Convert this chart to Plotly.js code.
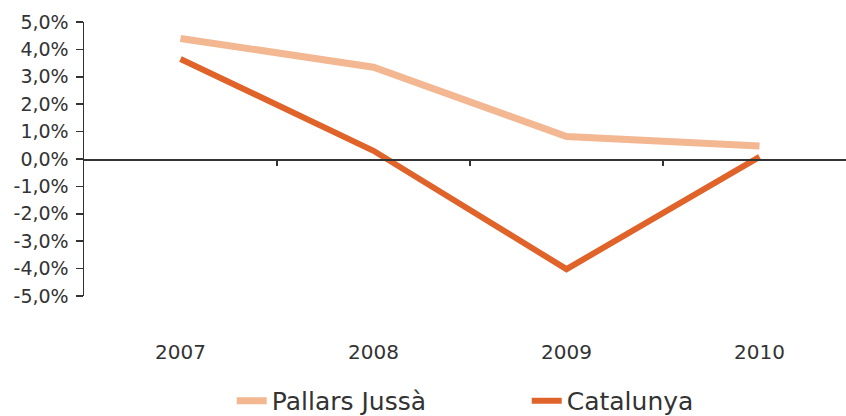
<!DOCTYPE html>
<html>
<head>
<meta charset="utf-8">
<script src="https://cdn.plot.ly/plotly-3.0.1.min.js"></script>
<style>html,body{margin:0;padding:0;background:#fff}#chart{width:846px;height:416px}</style>
</head>
<body>
<div id="chart"></div>
<script>
const years = [2007, 2008, 2009, 2010];
const yearLabels = ['2007', '2008', '2009', '2010'];
const pallarsJussa = [4.4, 3.35, 0.82, 0.47];
const catalunya = [3.65, 0.3, -4.02, 0.08];
const yTicks = [-5, -4, -3, -2, -1, 0, 1, 2, 3, 4, 5];
const yTickLabels = yTicks.map(v => v.toFixed(1).replace('.', ',') + '%');
const seriesNames = ['Pallars Jussà', 'Catalunya'];

const font = "'DejaVu Sans', 'Noto Sans', sans-serif";
const traces = [
  {x: years, y: pallarsJussa, name: seriesNames[0], type: 'scatter', mode: 'lines',
   line: {color: '#F3B792', width: 7}, xaxis: 'x', yaxis: 'y'},
  {x: years, y: catalunya, name: seriesNames[1], type: 'scatter', mode: 'lines',
   line: {color: '#E0632A', width: 6}, xaxis: 'x', yaxis: 'y'},
  {x: years, y: [null, null, null, null], xaxis: 'x2', yaxis: 'y', showlegend: false, hoverinfo: 'skip'}
];
const xr = [2006.5, 2010.448];
const layout = {
  width: 846, height: 416,
  margin: {l: 84, r: 0, t: 22, b: 120, autoexpand: false},
  paper_bgcolor: '#fff', plot_bgcolor: '#fff',
  font: {family: font, color: '#333', size: 15},
  showlegend: true,
  legend: {orientation: 'h', x: 0.581, xanchor: 'center', y: -0.383, yanchor: 'middle',
           bgcolor: 'rgba(0,0,0,0)',
           font: {size: 25, color: '#333'}, entrywidth: 250, entrywidthmode: 'pixels', traceorder: 'normal'},
  xaxis: {type: 'linear', range: xr, anchor: 'free', position: 0.5, automargin: false,
          showline: true, linecolor: '#333', linewidth: 1.5, showgrid: false, zeroline: false,
          tickvals: [2007.5, 2008.5, 2009.5], ticks: 'outside', ticklen: 5, tickcolor: '#333', tickwidth: 1.5,
          showticklabels: false},
  xaxis2: {type: 'linear', range: xr, overlaying: 'x', anchor: 'y', side: 'bottom', automargin: false,
           showline: false, showgrid: false, zeroline: false, ticks: '',
           tickvals: years, ticktext: yearLabels, ticklabelstandoff: 42,
           tickfont: {size: 20, color: '#333'}},
  yaxis: {range: [-5, 5], tickvals: yTicks, ticktext: yTickLabels, automargin: false,
          showline: true, linecolor: '#333', linewidth: 1.5, showgrid: false, zeroline: false,
          ticks: 'outside', ticklen: 7, tickcolor: '#333', tickwidth: 1.5, ticklabelstandoff: 3,
          tickfont: {size: 19, color: '#333'}}
};
Plotly.newPlot('chart', traces, layout, {displayModeBar: false, staticPlot: true});
</script>
</body>
</html>
